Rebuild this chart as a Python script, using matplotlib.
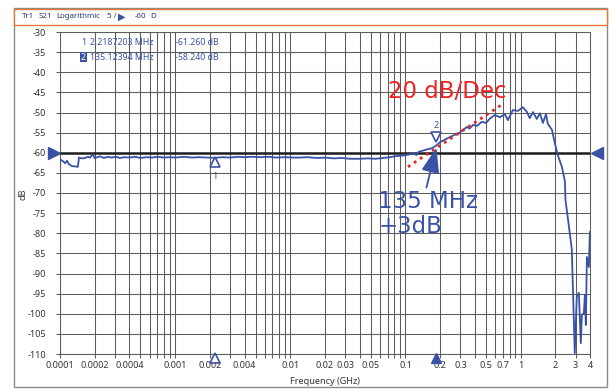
import matplotlib.pyplot as plt
import matplotlib.transforms as mtransforms
from matplotlib.patches import Rectangle
from matplotlib.ticker import FixedLocator, NullFormatter

# trace data (frequency in GHz, S21 in dB)
freq = [0.0001, 0.000102, 0.000106, 0.000111, 0.000115, 0.00012, 0.000127, 0.000135,
        0.000143, 0.000146, 0.000155, 0.000165, 0.000175, 0.000182, 0.000193, 0.000201,
        0.00021, 0.000223, 0.00024, 0.00026, 0.00028, 0.000305, 0.000332, 0.00036,
        0.0004, 0.00045, 0.0005, 0.00056, 0.00063, 0.0007, 0.0008, 0.0009, 0.001,
        0.0012, 0.0014, 0.0016, 0.0019, 0.0022, 0.0026, 0.003, 0.0035, 0.004, 0.0047,
        0.0055, 0.0065, 0.0075, 0.009, 0.0105, 0.0121, 0.014, 0.017, 0.02, 0.024,
        0.028, 0.033, 0.0402, 0.047, 0.055, 0.064, 0.0734, 0.084, 0.095, 0.109,
        0.1195, 0.124, 0.130, 0.148, 0.172, 0.184, 0.199, 0.243, 0.295, 0.341, 0.36,
        0.385, 0.42, 0.46, 0.50, 0.541, 0.597, 0.66, 0.729, 0.774, 0.855, 0.946,
        1.045, 1.13, 1.2, 1.28, 1.38, 1.47, 1.56, 1.66, 1.72, 1.87, 1.98, 2.10,
        2.28, 2.42, 2.45, 2.67, 2.78, 2.95, 3.07, 3.2, 3.33, 3.4, 3.54, 3.61, 3.68,
        3.76, 3.91, 3.99]
s21 = [-61.6, -61.8, -62.1, -62.6, -62.0, -62.9, -63.3, -63.4,
       -63.5, -61.2, -61.4, -61.3, -61.0, -61.2, -60.4, -61.4,
       -61.1, -60.9, -61.3, -61.0, -61.2, -61.0, -61.3, -61.1,
       -61.2, -61.0, -61.3, -61.1, -61.2, -61.0, -61.2, -61.1, -61.2,
       -61.0, -61.2, -61.1, -61.2, -61.26, -61.1, -61.2, -61.0, -61.1, -61.0,
       -61.1, -61.0, -61.2, -61.1, -61.2, -61.2, -61.1, -61.3, -61.2, -61.4,
       -61.3, -61.5, -61.5, -61.4, -61.5, -61.3, -61.1, -60.8, -60.7, -60.4,
       -60.1, -60.6, -59.8, -59.3, -58.8, -58.24, -57.4, -56.1, -55.0, -53.6, -54.0,
       -53.1, -53.3, -52.3, -52.6, -51.5, -50.6, -51.2, -50.4, -51.9, -49.4, -49.6,
       -48.7, -49.8, -51.4, -49.9, -51.6, -50.2, -52.6, -50.4, -52.8, -54.3, -57.6, -60.6,
       -63.5, -67.0, -71.7, -80.0, -84.0, -109.8, -95.8, -94.8, -107.3, -100.3, -99.8, -95.3, -102.8,
       -85.9, -88.4, -79.7]

# markers
mk_freq = [0.0022, 0.184]
mk_db = [-61.26, -58.24]
mk_text = [("1", "2.2187203 MHz", "-61.260 dB"), ("2", "135.12394 MHz", "-58.240 dB")]
ref_level = -60

# 20 dB/dec slope line
slope_f = [0.105, 0.70]
slope_db = [-63.5, -47.9]

xticks = [0.0001, 0.0002, 0.0004, 0.001, 0.002, 0.004, 0.01, 0.02, 0.03, 0.05,
          0.1, 0.2, 0.3, 0.5, 0.7, 1, 2, 3, 4]
xlabels = ["0.0001", "0.0002", "0.0004", "0.001", "0.002", "0.004", "0.01", "0.02", "0.03",
           "0.05", "0.1", "0.2", "0.3", "0.5", "0.7", "1", "2", "3", "4"]
yticks = list(range(-30, -111, -5))

# header pieces and their x positions (px)
header = [("Tr1", 22), ("S21", 39), ("Logarithmic", 56), ("5 /", 107), ("-60", 135), ("D", 150)]

blue = "#3a52a6"
navy = "#2a3a70"
gridc = "#5c5c5c"
W, H = 615, 389

plt.rcParams['font.family'] = ['Noto Sans', 'DejaVu Sans']

fig = plt.figure(figsize=(W / 100, H / 100), dpi=100)
ax = fig.add_axes([60 / W, 35 / H, 530 / W, 322 / H])

ax.set_xscale('log')
ax.set_xlim(0.0001, 4)
ax.set_ylim(-110, -30)

# all 1..9 per decade lines for the grid
minor = []
for d in [0.0001, 0.001, 0.01, 0.1, 1]:
    for k in range(1, 10):
        v = d * k
        if v <= 4 and v not in xticks:
            minor.append(v)
ax.xaxis.set_major_locator(FixedLocator(xticks))
ax.set_xticklabels(xlabels)
ax.xaxis.set_minor_locator(FixedLocator(minor))
ax.xaxis.set_minor_formatter(NullFormatter())
ax.set_yticks(yticks)
ax.set_yticklabels([str(v) for v in yticks])

ax.grid(True, which='both', color=gridc, lw=0.75)
ax.tick_params(which='both', length=3, width=0.75, color=gridc, labelsize=6.5,
               labelcolor='#333333')
ax.tick_params(axis='y', pad=7)
ax.tick_params(axis='x', pad=2)
for s in ax.spines.values():
    s.set_color(gridc)
    s.set_linewidth(0.75)

# reference line and triangles
ax.axhline(ref_level, color='#1e1e1e', lw=1.8, zorder=3)
bt = mtransforms.blended_transform_factory(ax.transAxes, ax.transData)
ax.plot([-0.0104], [ref_level], marker='>', ms=9, color=blue, transform=bt, clip_on=False, zorder=5)
ax.plot([1.014], [ref_level], marker='<', ms=9, color=blue, transform=bt, clip_on=False, zorder=5)

# trace
ax.plot(freq, s21, color=blue, lw=1.3, zorder=4)

# slope line
ax.plot(slope_f, slope_db, color='#ee2222', ls=(0, (1, 1.6)), lw=2, zorder=5)
ax.text(0.0703, -46.4, "20 dB/Dec", color='#ee2222', fontsize=16.5,
        family='DejaVu Sans', va='baseline', ha='left')

# marker symbols on trace
ax.plot(mk_freq[0], -62.4, marker='^', ms=7, mfc='white', mec=blue, mew=1.2, zorder=6)
ax.text(mk_freq[0], -65.8, "1", color=blue, fontsize=6.5, ha='center', va='center')
ax.plot(mk_freq[1], -56.1, marker='v', ms=7, mfc='white', mec=blue, mew=1.2, zorder=6)
ax.text(mk_freq[1], -53.3, "2", color=blue, fontsize=6.5, ha='center', va='center')

# marker symbols on bottom axis
ax.plot(mk_freq[0], -111, marker='^', ms=7, mfc='white', mec=blue, mew=1.2,
        clip_on=False, zorder=6)
ax.plot(mk_freq[1], -111, marker='^', ms=7, color=blue, mec=blue, mew=1.0,
        clip_on=False, zorder=6)

# arrow + label
ax.annotate('', xy=(0.188, -58.1), xytext=(0.150, -69.3),
            arrowprops=dict(arrowstyle='-|>,head_length=1.1,head_width=0.4',
                            mutation_scale=14, color=blue, lw=1.3), zorder=7)
ax.text(0.058, -69.2, "135 MHz\n+3dB", color=blue, fontsize=16.5,
        family='DejaVu Sans', va='top', ha='left', linespacing=1.15)

# marker readout table
rows_y = [0.966, 0.922]
for (n, f, v), yy in zip(mk_text, rows_y):
    if n == "2":
        ax.text(0.0396, yy, n, color='white', fontsize=6.3, transform=ax.transAxes,
                va='center', bbox=dict(boxstyle='square,pad=0.1', fc=blue, ec='none'))
    else:
        ax.text(0.0396, yy, n, color=blue, fontsize=6.3, transform=ax.transAxes, va='center')
    ax.text(0.0566, yy, f, color=blue, fontsize=6.3, transform=ax.transAxes, va='center')
    ax.text(0.217, yy, v, color=blue, fontsize=6.3, transform=ax.transAxes, va='center')

# axis labels
fig.text(325 / W, 1 - 381 / H, "Frequency (GHz)", fontsize=6.5, color='#333333',
         ha='center', va='center')
fig.text(23 / W, 1 - 194 / H, "dB", fontsize=6.5, color='#333333', rotation=90,
         ha='center', va='center')

# outer frame and header bar
fig.add_artist(Rectangle((14 / W, 1 - 387 / H), 593 / W, 379 / H, transform=fig.transFigure,
                         fill=False, ec='#8a8a8a', lw=1.0))
fig.add_artist(Rectangle((14 / W, 1 - 25 / H), 593 / W, 16 / H, transform=fig.transFigure,
                         fc='white', ec='#e0793a', lw=1.0))
hy = 1 - 17 / H
for txt, px in header:
    fig.text(px / W, hy, txt, fontsize=5.7, color=navy, va='center')
fig.text(118 / W, hy, "\u25B6", fontsize=7, color=blue, va='center', family='DejaVu Sans')

fig.savefig("out.png", dpi=100)
